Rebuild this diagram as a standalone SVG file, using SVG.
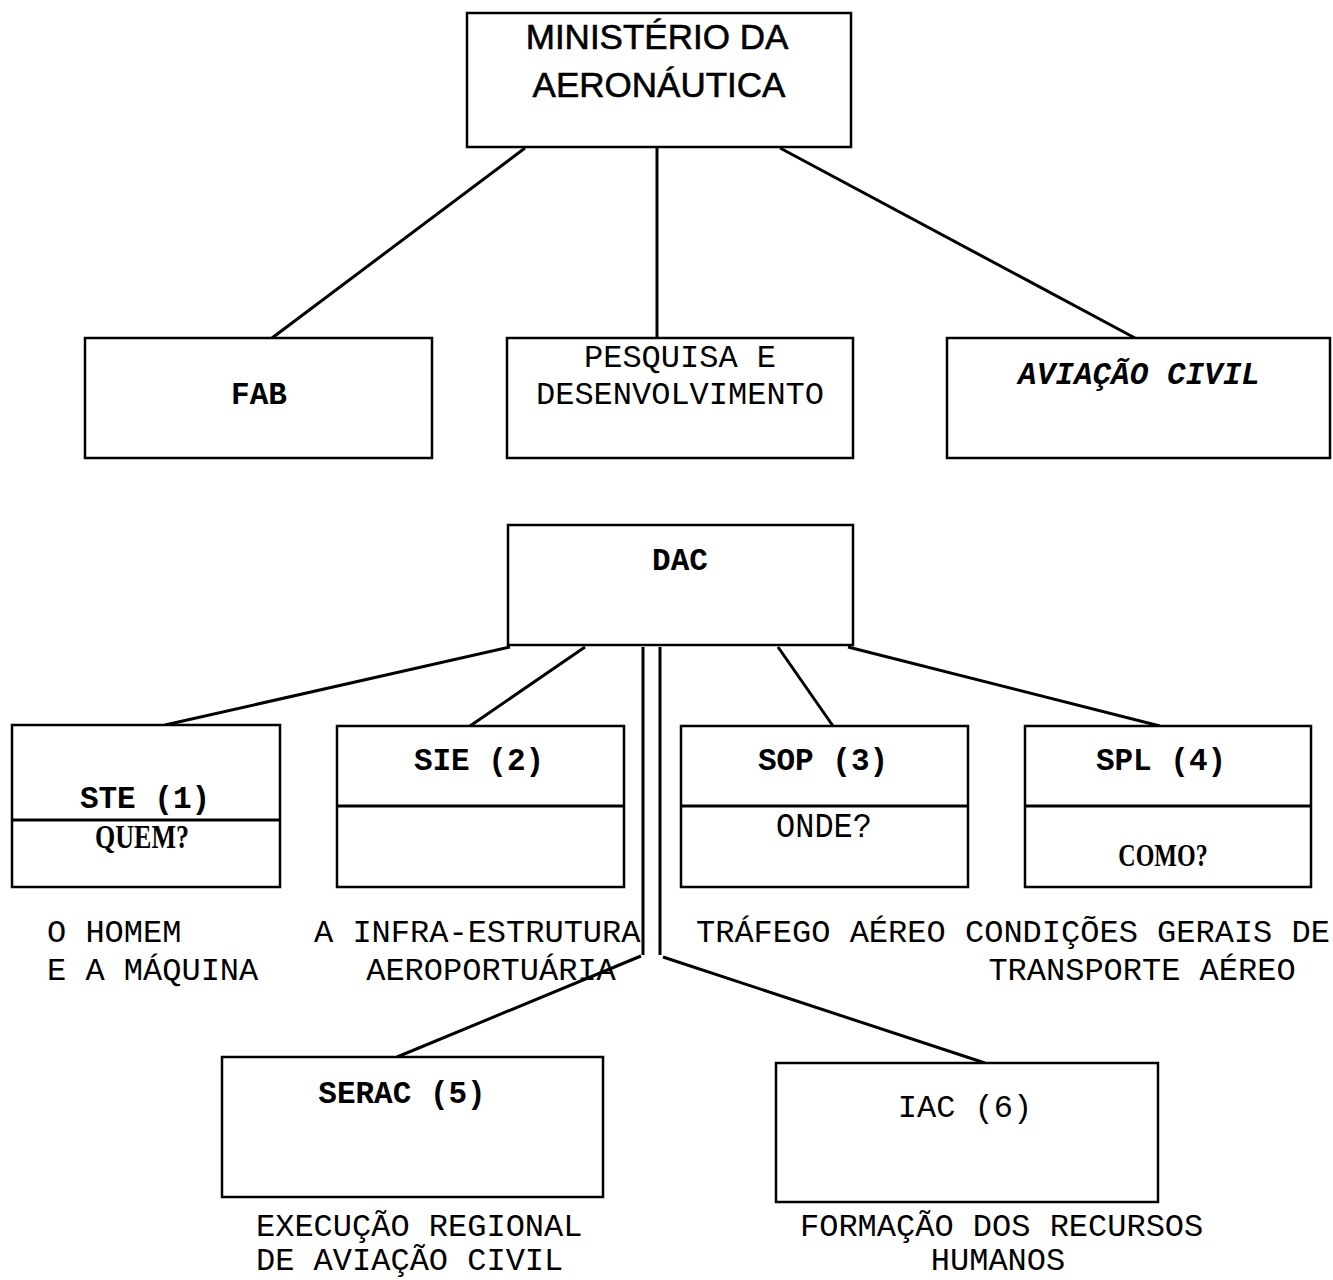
<svg xmlns="http://www.w3.org/2000/svg" width="1333" height="1280" viewBox="0 0 1333 1280">
<style>
.box{fill:#fff;stroke:#000;stroke-width:2.5}
.ln{stroke:#000;stroke-width:3;fill:none}
.sans{font-family:"Liberation Sans",Arial,sans-serif;font-size:35px;fill:#000;stroke:#000;stroke-width:0.6}
.mono{font-family:"Liberation Mono","Courier New",monospace;font-size:32px;fill:#000}
.bm{font-family:"Liberation Mono","Courier New",monospace;font-size:31px;font-weight:bold;fill:#000}
.bs{font-family:"Liberation Serif","Times New Roman",serif;font-weight:bold;fill:#000}
.c{text-anchor:middle}
</style>
<rect width="1333" height="1280" fill="#fff"/>
<g id="connectors">
<line class="ln" x1="525" y1="148" x2="272" y2="338"/>
<line class="ln" x1="657" y1="148" x2="657" y2="338"/>
<line class="ln" x1="780" y1="148" x2="1135" y2="338"/>
<line class="ln" x1="510" y1="647" x2="165" y2="725"/>
<line class="ln" x1="585" y1="647" x2="470" y2="726"/>
<line class="ln" x1="643" y1="647" x2="643" y2="955"/>
<line class="ln" x1="660" y1="647" x2="660" y2="955"/>
<line class="ln" x1="641" y1="956" x2="397" y2="1057"/>
<line class="ln" x1="663" y1="957" x2="985" y2="1063"/>
<line class="ln" x1="778" y1="647" x2="833" y2="726"/>
<line class="ln" x1="848" y1="647" x2="1160" y2="726"/>
</g>
<g id="ministerio">
<rect class="box" x="467" y="13" width="384" height="134"/>
<text class="sans c" x="657" y="49">MINISTÉRIO DA</text>
<text class="sans c" x="659" y="97">AERONÁUTICA</text>
</g>
<g id="fab">
<rect class="box" x="85" y="338" width="347" height="120"/>
<text class="bm c" x="259" y="404">FAB</text>
</g>
<g id="pesquisa">
<rect class="box" x="507" y="338" width="346" height="120"/>
<text class="mono c" x="680" y="367">PESQUISA E</text>
<text class="mono c" x="680" y="404">DESENVOLVIMENTO</text>
</g>
<g id="aviacao">
<rect class="box" x="947" y="338" width="383" height="120"/>
<text class="bm c" x="1139" y="384" font-style="italic">AVIAÇÃO CIVIL</text>
</g>
<g id="dac">
<rect class="box" x="508" y="525" width="345" height="120"/>
<text class="bm c" x="680" y="570">DAC</text>
</g>
<g id="ste">
<rect class="box" x="12" y="725" width="268" height="162"/>
<line class="ln" x1="12" y1="820" x2="280" y2="820"/>
<text class="bm c" x="145" y="808">STE (1)</text>
<text class="bs c" transform="translate(142,848) scale(1,1.3)" x="0" y="0" font-size="26">QUEM?</text>
<text class="mono" x="47" y="942">O HOMEM</text>
<text class="mono" x="47" y="980">E A MÁQUINA</text>
</g>
<g id="sie">
<rect class="box" x="337" y="726" width="287" height="161"/>
<line class="ln" x1="337" y1="806" x2="624" y2="806"/>
<text class="bm c" x="479" y="770">SIE (2)</text>
<text class="mono" x="314" y="942">A INFRA-ESTRUTURA</text>
<text class="mono c" x="491" y="980">AEROPORTUÁRIA</text>
</g>
<g id="sop">
<rect class="box" x="681" y="726" width="287" height="161"/>
<line class="ln" x1="681" y1="806" x2="968" y2="806"/>
<text class="bm c" x="823" y="770">SOP (3)</text>
<text class="mono c" transform="translate(824,837) scale(1,1.12)" x="0" y="0" font-size="40">ONDE?</text>
<text class="mono" x="696" y="942">TRÁFEGO AÉREO</text>
</g>
<g id="spl">
<rect class="box" x="1025" y="726" width="286" height="161"/>
<line class="ln" x1="1025" y1="806" x2="1311" y2="806"/>
<text class="bm c" x="1161" y="770">SPL (4)</text>
<text class="bs c" transform="translate(1163,866) scale(1,1.3)" x="0" y="0" font-size="24">COMO?</text>
<text class="mono" x="965" y="942">CONDIÇÕES GERAIS DE</text>
<text class="mono c" x="1142" y="980">TRANSPORTE AÉREO</text>
</g>
<g id="serac">
<rect class="box" x="222" y="1057" width="381" height="140"/>
<text class="bm c" x="402" y="1103">SERAC (5)</text>
<text class="mono" x="256" y="1236">EXECUÇÃO REGIONAL</text>
<text class="mono" x="256" y="1270">DE AVIAÇÃO CIVIL</text>
</g>
<g id="iac">
<rect class="box" x="776" y="1063" width="382" height="139"/>
<text class="mono c" x="965" y="1117" font-size="40">IAC (6)</text>
<text class="mono" x="800" y="1236">FORMAÇÃO DOS RECURSOS</text>
<text class="mono c" x="998" y="1270">HUMANOS</text>
</g>
</svg>
